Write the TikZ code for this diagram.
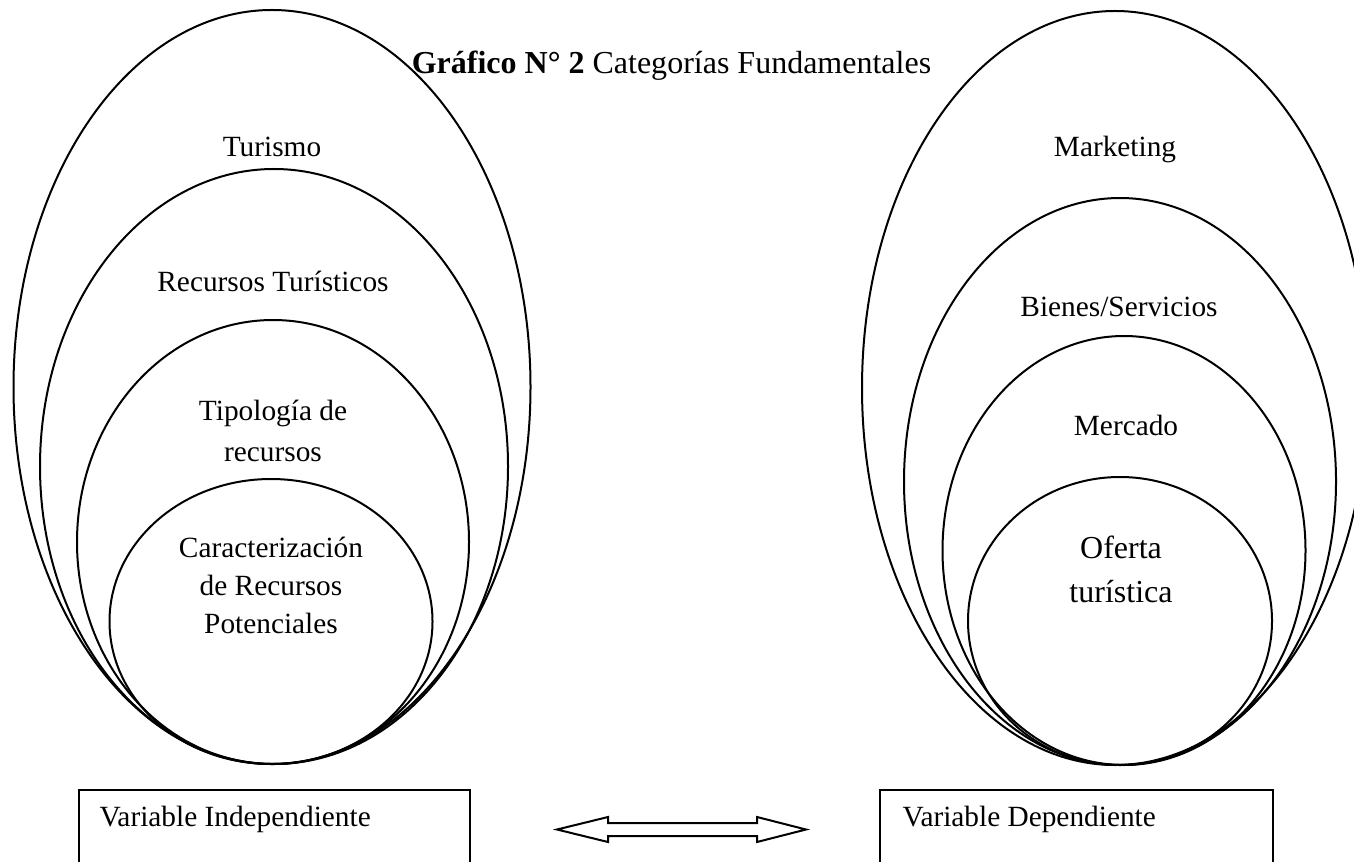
\documentclass[tikz,border=0pt]{standalone}
\usepackage{fontspec}
\setmainfont{Liberation Serif}
\usetikzlibrary{shapes.geometric}
\tikzset{
  ring/.style 2 args={ellipse, draw, line width=0.75pt,
    minimum width=#1*0.375pt, minimum height=#2*0.375pt,
    inner sep=0pt, outer sep=0pt},
  lab/.style={anchor=base, inner sep=0pt, font=\fontsize{11}{13}\selectfont},
  varbox/.style={draw, line width=0.75pt, anchor=north west, inner sep=0pt,
    minimum width=#1*0.375pt, minimum height=120*0.375pt},
  blockarrow/.style={draw, line width=0.75pt, line join=miter},
}
\begin{document}
\begin{tikzpicture}[x=0.375pt, y=-0.375pt]
\useasboundingbox (0,0) rectangle (1354,862);
\clip (0,0) rectangle (1354,862);
\fill[white] (0,0) rectangle (1354,862);

% left set of ellipses
\node[ring={517}{754}] (L1) at (272,387) {};
\node[ring={468}{595}] (L2) at (274,466.5) {};
\node[ring={392}{444}] (L3) at (273,542) {};
\node[ring={323}{285}] (L4) at (271,621.5) {};

% right set of ellipses
\node[ring={506}{754}] (R1) at (1115,388) {};
\node[ring={432}{567}] (R2) at (1120,481.5) {};
\node[ring={363}{429}] (R3) at (1124,550.5) {};
\node[ring={304}{288}] (R4) at (1120,621) {};

% title
\node[anchor=base, inner sep=0pt, font=\fontsize{12}{14}\selectfont] (title) at (671.5,74)
  {\textbf{Gráfico N° 2} Categorías Fundamentales};

% left labels
\node[lab] (t1) at (272,157) {Turismo};
\node[lab] (t2) at (273,291) {Recursos Turísticos};
\node[lab] (t3) at (273,420) {\def\arraystretch{1}\fontsize{11}{15.4}\selectfont\begin{tabular}[t]{@{}c@{}}Tipología de\\recursos\end{tabular}};
\node[lab] (t4) at (271,557) {\def\arraystretch{1}\fontsize{11}{14.4}\selectfont\begin{tabular}[t]{@{}c@{}}Caracterización\\de Recursos\\Potenciales\end{tabular}};

% right labels
\node[lab] (m1) at (1115,157) {Marketing};
\node[lab] (m2) at (1119,317) {Bienes/Servicios};
\node[lab] (m3) at (1126,435) {Mercado};
\node[lab] (m4) at (1121,558) {\def\arraystretch{1}\fontsize{12}{16.5}\selectfont\begin{tabular}[t]{@{}c@{}}Oferta\\turística\end{tabular}};

% variable boxes
\node[varbox={391.5}] (boxL) at (77.5,788.5) {};
\node[lab, anchor=base west] (vL) at (99,826) {Variable Independiente};
\node[varbox={393}] (boxR) at (879,789) {};
\node[lab, anchor=base west] (vR) at (902,826) {Variable Dependiente};

% double block arrow
\draw[blockarrow] (557,829.5) -- (608,817) -- (608,823) -- (757,823) -- (757,817)
  -- (806,829.5) -- (757,842) -- (757,836) -- (608,836) -- (608,842) -- cycle;
\end{tikzpicture}
\end{document}
